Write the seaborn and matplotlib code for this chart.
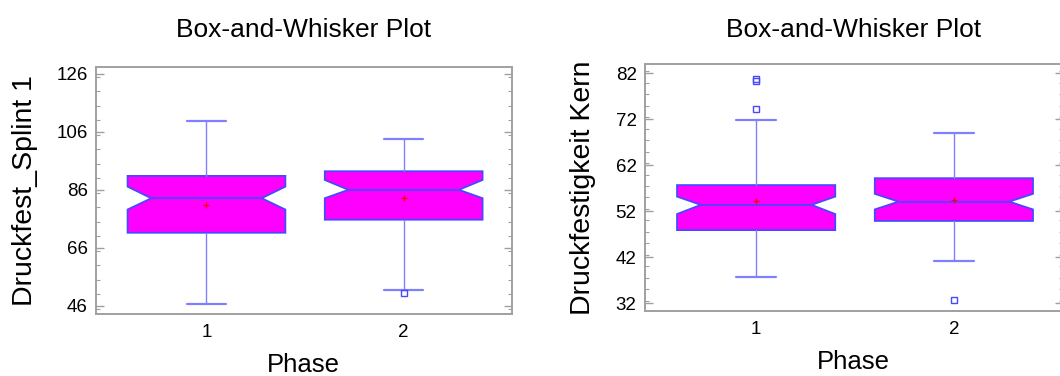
import matplotlib
matplotlib.use('Agg')
import matplotlib.pyplot as plt
from matplotlib.ticker import MultipleLocator
import seaborn as sns

# values (two panels, phase 1 and 2)
phases = [1, 2]

splint_whislo = [46.7, 51.4]
splint_q1 = [71.2, 75.7]
splint_med = [83.1, 86.0]
splint_q3 = [90.8, 92.4]
splint_whishi = [109.8, 103.5]
splint_mean = [80.8, 83.2]
splint_cilo = [79.2, 83.1]
splint_cihi = [87.1, 89.4]
splint_fliers = [[], [50.4]]

kern_whislo = [37.8, 41.2]
kern_q1 = [47.9, 49.9]
kern_med = [53.4, 54.1]
kern_q3 = [57.7, 59.2]
kern_whishi = [71.85, 69.1]
kern_mean = [54.3, 54.4]
kern_cilo = [51.4, 52.4]
kern_cihi = [55.2, 55.8]
kern_fliers = [[74.3, 80.4, 80.9], [32.6]]

sns.set_style('white')
plt.rcParams['font.family'] = ['Liberation Sans', 'DejaVu Sans']
plt.rcParams['text.color'] = 'black'
plt.rcParams['axes.labelcolor'] = 'black'
plt.rcParams['xtick.color'] = 'black'
plt.rcParams['ytick.color'] = 'black'

BOX_W = 0.8
NOTCH = 0.35
EDGE = '#4848ff'
WHISK = '#8080ff'
SPINE = '#a0a0a0'


def stats_list(whislo, q1, med, q3, whishi, mean, cilo, cihi, fliers):
    out = []
    for i in range(len(phases)):
        out.append(dict(whislo=whislo[i], q1=q1[i], med=med[i], q3=q3[i],
                        whishi=whishi[i], mean=mean[i], cilo=cilo[i],
                        cihi=cihi[i], fliers=fliers[i], label=str(phases[i])))
    return out


def draw(ax, stats, means, ylab, ylim, yticks, xlim, title_pad, ylab_pad):
    res = ax.bxp(stats, positions=phases, widths=BOX_W, shownotches=True,
                 patch_artist=True, showmeans=False,
                 boxprops=dict(facecolor='#ff00ff', edgecolor=EDGE, linewidth=1.3),
                 medianprops=dict(color=EDGE, linewidth=1.3),
                 whiskerprops=dict(color=WHISK, linewidth=1.0),
                 capprops=dict(color=WHISK, linewidth=1.6),
                 capwidths=0.2,
                 flierprops=dict(marker='s', markersize=4, markerfacecolor='none',
                                 markeredgecolor=EDGE, markeredgewidth=1.0))
    # widen the notch waist a bit (reference narrows to ~70% of box width)
    for pos, box, med in zip(phases, res['boxes'], res['medians']):
        verts = box.get_path().vertices
        for v in verts:
            if abs(v[0] - (pos - BOX_W * 0.25)) < 1e-9:
                v[0] = pos - BOX_W * NOTCH
            elif abs(v[0] - (pos + BOX_W * 0.25)) < 1e-9:
                v[0] = pos + BOX_W * NOTCH
        med.set_xdata([pos - BOX_W * NOTCH, pos + BOX_W * NOTCH])

    sns.scatterplot(x=phases, y=means, marker='+', color='red', s=22,
                    linewidth=0.9, ax=ax, zorder=5)

    ax.set_xlim(*xlim)
    ax.set_ylim(*ylim)
    ax.set_yticks(yticks)
    ax.yaxis.set_minor_locator(MultipleLocator(5 if yticks[1] - yticks[0] == 20 else 2.5))
    ax.set_xticks(phases)
    ax.set_xticklabels([str(p) for p in phases])
    ax.tick_params(axis='y', which='both', direction='in', left=True, right=True,
                   color=SPINE, labelcolor='black', labelsize=13.5, pad=6)
    ax.tick_params(axis='y', which='major', length=6, width=1.0)
    ax.tick_params(axis='y', which='minor', length=3, width=0.8)
    ax.tick_params(axis='x', length=0, labelsize=13.5, labelcolor='black', pad=7)
    for s in ax.spines.values():
        s.set_color(SPINE)
        s.set_linewidth(1.4)
    ax.set_title('Box-and-Whisker Plot', fontsize=19, pad=title_pad, color='black')
    ax.set_xlabel('Phase', fontsize=18.5, labelpad=9, color='black')
    ax.set_ylabel(ylab, fontsize=20.5, labelpad=ylab_pad, color='black')


fig = plt.figure(figsize=(10.6, 3.76), dpi=100)
ax1 = fig.add_axes([0.0906, 0.165, 0.392, 0.658])
ax2 = fig.add_axes([0.6085, 0.173, 0.394, 0.656])

draw(ax1, stats_list(splint_whislo, splint_q1, splint_med, splint_q3, splint_whishi,
                     splint_mean, splint_cilo, splint_cihi, splint_fliers),
     splint_mean, 'Druckfest_Splint 1', (43.2, 128.5), [46, 66, 86, 106, 126],
     (0.44, 2.547), 21, 13)
draw(ax2, stats_list(kern_whislo, kern_q1, kern_med, kern_q3, kern_whishi,
                     kern_mean, kern_cilo, kern_cihi, kern_fliers),
     kern_mean, 'Druckfestigkeit Kern', (30.3, 84.0), [32, 42, 52, 62, 72, 82],
     (0.438, 2.55), 19.5, 14)

fig.savefig('out.png', dpi=100)
